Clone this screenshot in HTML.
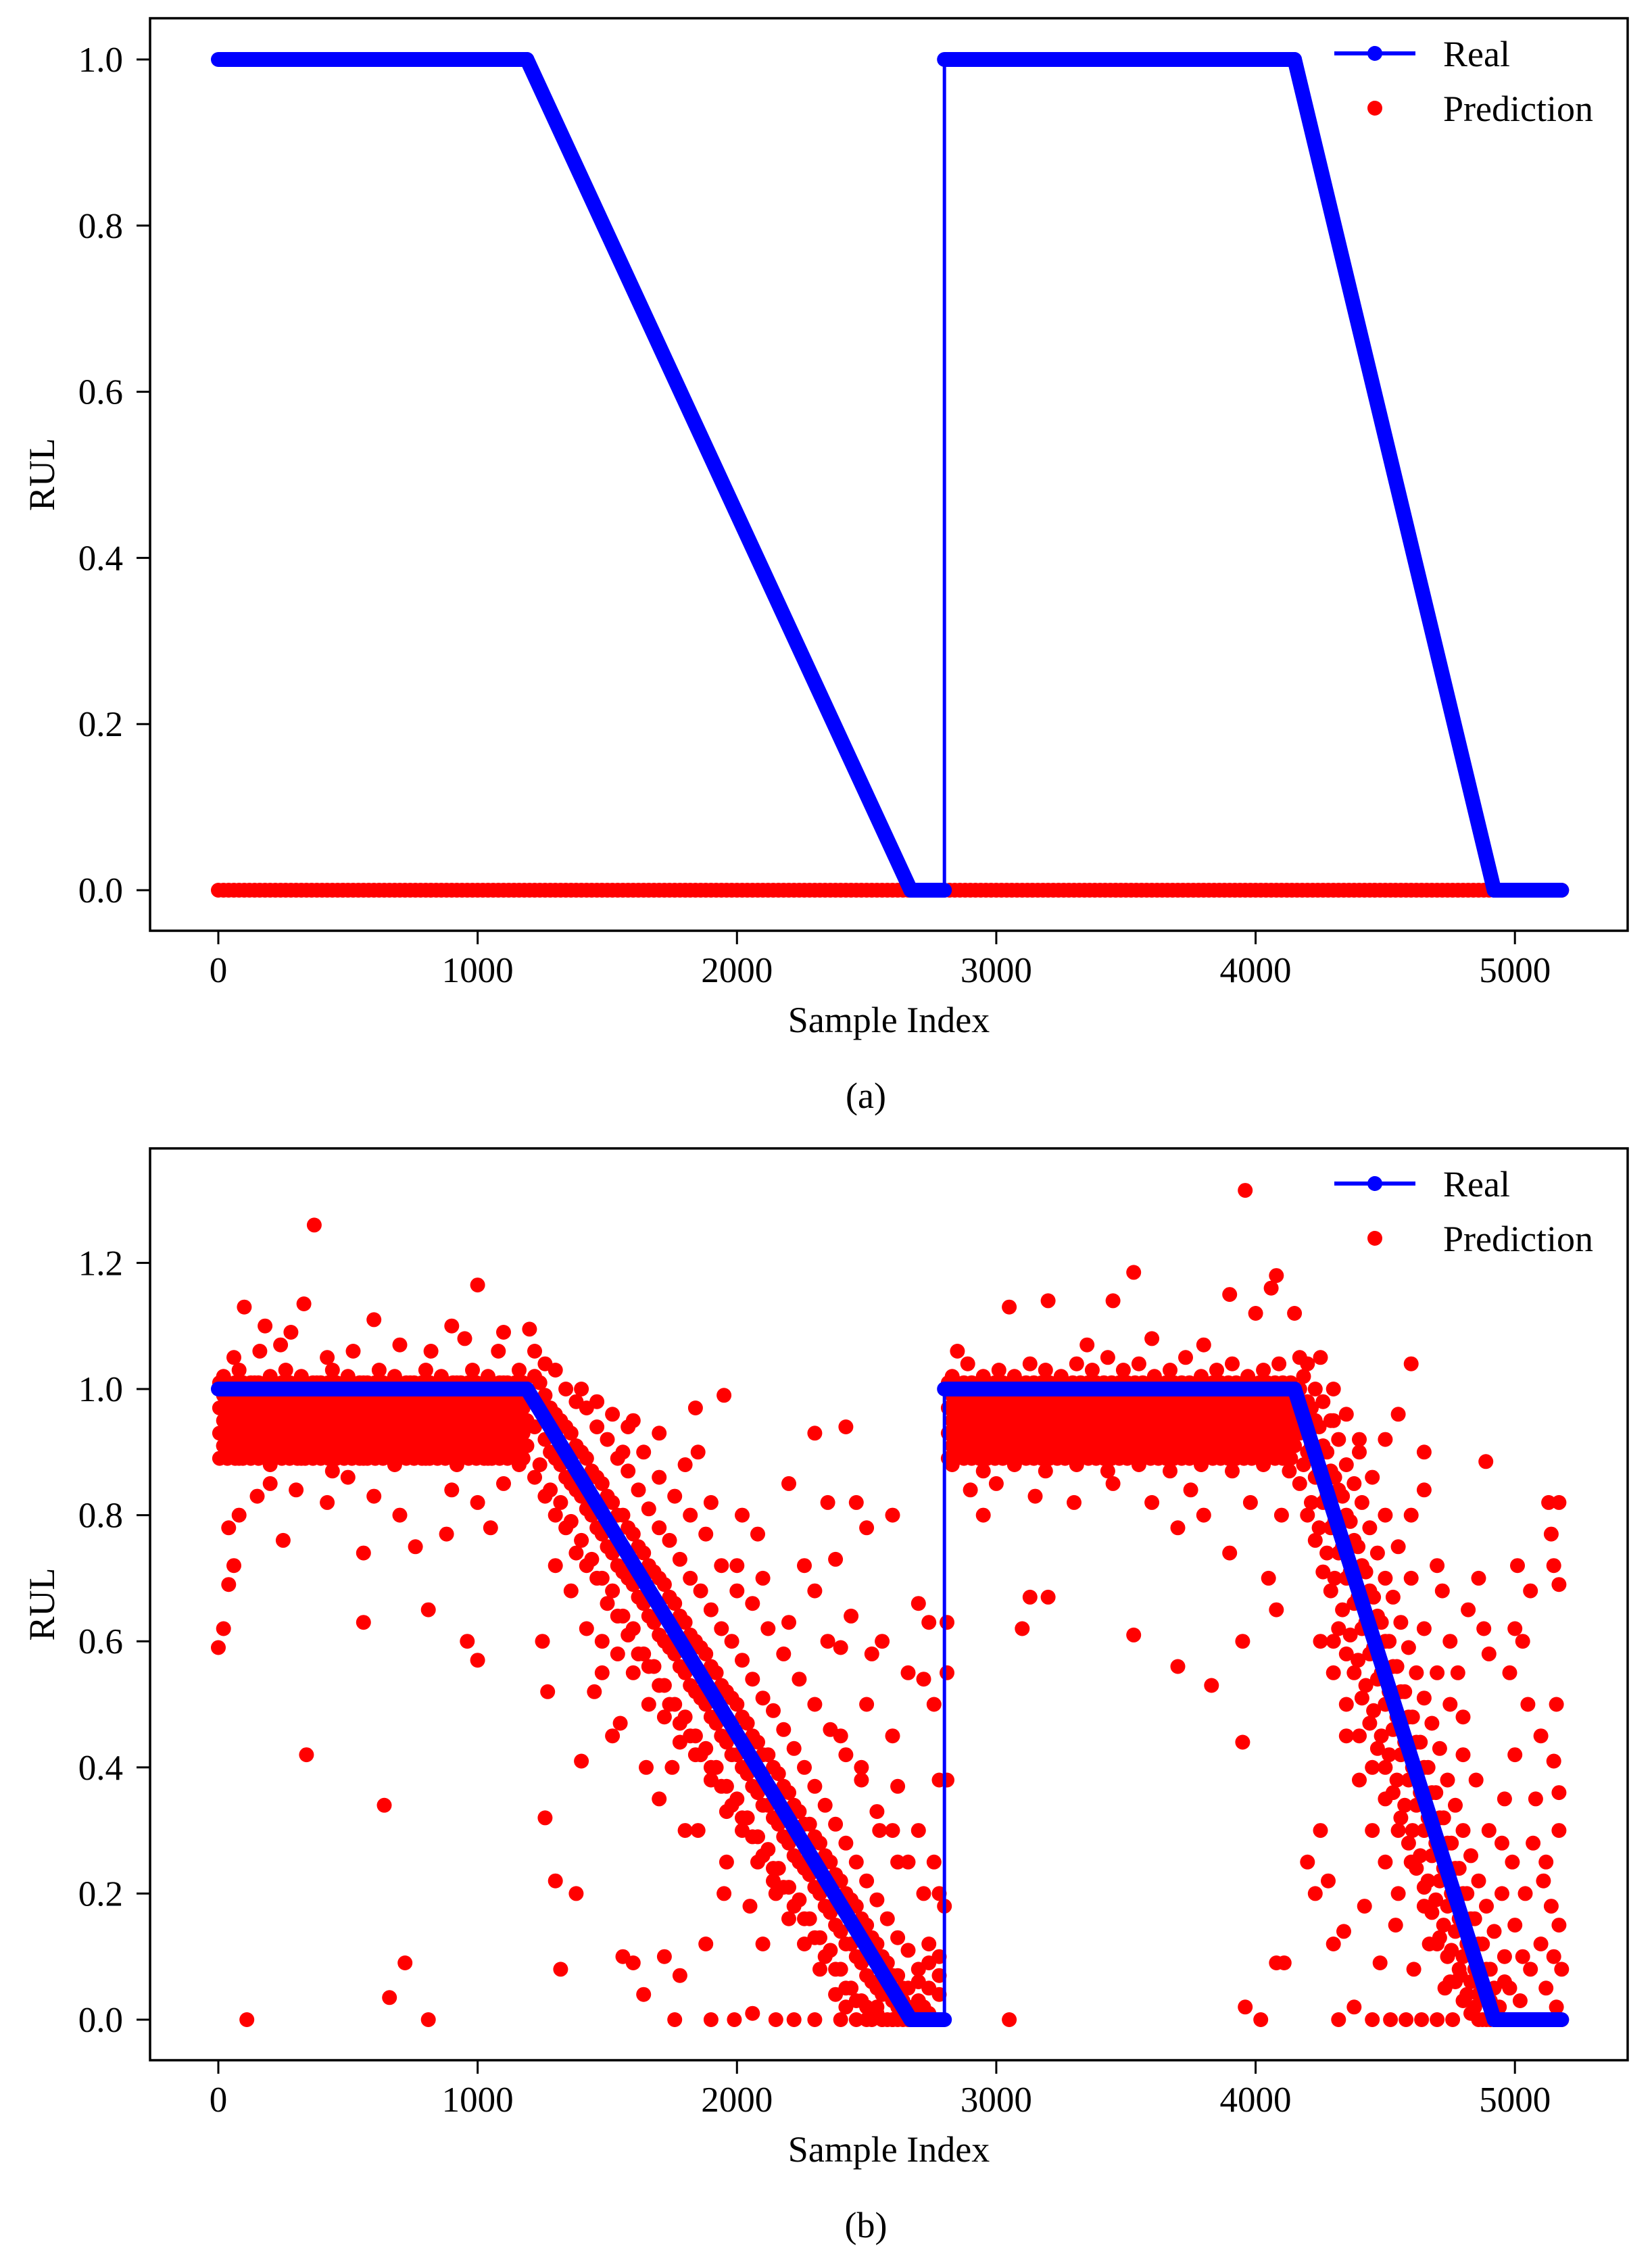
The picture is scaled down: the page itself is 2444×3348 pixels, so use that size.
<!DOCTYPE html>
<html><head><meta charset="utf-8">
<style>
html,body{margin:0;padding:0;background:#fff;}
svg{display:block;}
text{font-family:"Liberation Serif","Times New Roman",serif;fill:#000;}
</style></head>
<body>
<svg id="fig" width="2444" height="3348" viewBox="0 0 2444 3348" xmlns="http://www.w3.org/2000/svg">
<rect width="2444" height="3348" fill="#fff"/>
</svg>
<script>
// ---- data ----
const xTicks = [0, 1000, 2000, 3000, 4000, 5000];
const yTicksA = [0.0, 0.2, 0.4, 0.6, 0.8, 1.0];
const yTicksB = [0.0, 0.2, 0.4, 0.6, 0.8, 1.0, 1.2];
const realX = [0, 1190, 2670, 2800, 2800, 4150, 4920, 5180];
const realY = [1, 1, 0, 0, 1, 1, 0, 0];
const predAStep = 20;
const predAValues = new Array(260).fill(0);
// dense plateau bands (panel b)
const bandAX = [5,35,65,95,125,155,185,215,245,275,305,335,365,395,425,455,485,515,545,575,605,635,665,695,725,755,785,815,845,875,905,935,965,995,1025,1055,1085,1115,1145,1175];
const bandAY = [0.89, 0.91, 0.93, 0.95, 0.97, 0.99, 1.01];
const bandCX = [2815,2845,2875,2905,2935,2965,2995,3025,3055,3085,3115,3145,3175,3205,3235,3265,3295,3325,3355,3385,3415,3445,3475,3505,3535,3565,3595,3625,3655,3685,3715,3745,3775,3805,3835,3865,3895,3925,3955,3985,4015,4045,4075,4105,4135];
const bandCY = [0.89, 0.91, 0.93, 0.95, 0.97, 0.99, 1.01];
const predB = [
[20,.91],[80,.89],[140,.90],[200,.88],[260,.91],[320,.89],[380,.90],[440,.87],[500,.90],[560,.89],[620,.91],[680,.88],[740,.90],[800,.89],[860,.91],[920,.88],[980,.90],[1040,.89],[1100,.90],[1160,.88],
[20,1.02],[80,1.03],[140,1.01],[200,1.02],[260,1.03],[320,1.02],[380,1.01],[440,1.03],[500,1.02],[560,1.01],[620,1.03],[680,1.02],[740,1.01],[800,1.03],[860,1.02],[920,1.01],[980,1.03],[1040,1.02],[1100,1.01],[1160,1.03],
[0,.59],[20,.62],[40,.69],[60,.72],[40,.78],[80,.80],[110,0],[340,.42],[560,.63],[640,.34],[720,.09],[660,.035],[810,0],[810,.65],[960,.6],[1000,.57],
[370,1.26],[330,1.135],[100,1.13],[180,1.1],[280,1.09],[600,1.11],[1000,1.165],[1100,1.09],[1200,1.095],[900,1.1],
[150,.83],[200,.85],[300,.84],[420,.82],[500,.86],[600,.83],[700,.80],[760,.75],[880,.77],[900,.84],[1000,.82],[1050,.78],[1100,.85],[250,.76],[560,.74],
[160,1.06],[240,1.07],[420,1.05],[520,1.06],[700,1.07],[820,1.06],[950,1.08],[1080,1.06],[60,1.05],
[1220,.86],[1220,.94],[1220,1.02],[1220,1.06],[1260,.83],[1260,.92],[1260,.99],[1260,1.04],
[1300,.80],[1300,.89],[1300,.96],[1300,1.03],[1340,.78],[1340,.86],[1340,.94],[1340,1.0],
[1380,.74],[1380,.84],[1380,.91],[1380,.98],[1420,.72],[1420,.81],[1420,.89],[1420,.97],
[1460,.70],[1460,.78],[1460,.86],[1460,.94],[1500,.66],[1500,.75],[1500,.83],[1500,.92],
[1540,.64],[1540,.72],[1540,.80],[1540,.89],[1580,.61],[1580,.70],[1580,.78],[1580,.87],
[1620,.58],[1620,.67],[1620,.75],[1620,.84],[1660,.56],[1660,.64],[1660,.72],[1660,.81],
[1700,.53],[1700,.61],[1700,.70],[1700,.78],[1740,.50],[1740,.59],[1740,.67],[1740,.76],
[1780,.47],[1780,.56],[1780,.64],[1780,.73],[1820,.45],[1820,.53],[1820,.61],[1820,.70],
[1860,.42],[1860,.51],[1860,.59],[1860,.68],[1900,.40],[1900,.48],[1900,.56],[1900,.65],
[1940,.37],[1940,.45],[1940,.53],[1940,.62],[1980,.34],[1980,.42],[1980,.51],[1980,.60],
[2020,.32],[2020,.40],[2020,.48],[2020,.57],[2060,.29],[2060,.37],[2060,.45],[2060,.54],
[2100,.26],[2100,.34],[2100,.42],[2100,.51],[2140,.24],[2140,.32],[2140,.40],[2140,.49],
[2180,.21],[2180,.29],[2180,.37],[2180,.46],[2220,.18],[2220,.26],[2220,.34],[2220,.43],
[2260,.16],[2260,.24],[2260,.31],[2260,.40],[2300,.13],[2300,.21],[2300,.29],[2300,.37],
[2340,.10],[2340,.18],[2340,.26],[2340,.34],[2380,.08],[2380,.15],[2380,.23],[2380,.31],
[2420,.05],[2420,.12],[2420,.20],[2420,.28],[2460,.03],[2460,.10],[2460,.18],[2460,.25],
[2500,.02],[2500,.07],[2500,.15],[2500,.22],[2540,.01],[2540,.05],[2540,.12],[2540,.19],
[2580,0],[2580,.04],[2580,.09],[2580,.16],[2620,0],[2620,.02],[2620,.07],[2620,.13],
[2660,0],[2660,.02],[2660,.05],[2660,.11],[2700,0],[2700,.03],[2700,.08],[2740,.01],[2740,.05],[2740,.12],[2780,0],[2780,.04],[2780,.10],
[1240,.88],[1240,.97],[1240,1.01],[1280,.84],[1280,.90],[1280,.97],[1320,.82],[1320,.88],[1320,.95],[1360,.79],[1360,.85],[1360,.93],
[1400,.76],[1400,.83],[1400,.90],[1440,.73],[1440,.80],[1440,.87],[1480,.70],[1480,.77],[1480,.85],[1520,.68],[1520,.74],[1520,.82],
[1560,.64],[1560,.71],[1560,.80],[1600,.62],[1600,.69],[1600,.77],[1640,.58],[1640,.66],[1640,.74],[1680,.56],[1680,.63],[1680,.71],
[1720,.53],[1720,.60],[1720,.69],[1760,.50],[1760,.58],[1760,.66],[1800,.48],[1800,.55],[1800,.63],[1840,.45],[1840,.52],[1840,.60],
[1880,.43],[1880,.50],[1880,.58],[1920,.40],[1920,.47],[1920,.55],[1960,.37],[1960,.44],[1960,.52],[2000,.35],[2000,.42],[2000,.50],
[2040,.32],[2040,.39],[2040,.47],[2080,.29],[2080,.36],[2080,.44],[2120,.27],[2120,.34],[2120,.42],[2160,.24],[2160,.31],[2160,.39],
[2200,.21],[2200,.28],[2200,.36],[2240,.19],[2240,.25],[2240,.33],[2280,.16],[2280,.23],[2280,.31],[2320,.13],[2320,.20],[2320,.28],
[2360,.11],[2360,.17],[2360,.25],[2400,.08],[2400,.14],[2400,.22],[2440,.05],[2440,.12],[2440,.19],[2480,.03],[2480,.09],[2480,.16],
[2520,.01],[2520,.06],[2520,.13],[2560,0],[2560,.04],[2560,.10],[2600,0],[2600,.03],[2600,.07],[2640,0],[2640,.01],[2640,.05],
[2420,.02],[2460,0],[2520,0],[2540,.02],[2560,0],[2640,.03],[2680,.01],[2720,.02],[2760,0],[2700,.06],[2740,.09],[2780,.07],
[1300,.72],[1360,.68],[1420,.62],[1480,.6],[1540,.58],[1600,.55],[1660,.5],[1720,.48],[1780,.44],[1840,.42],[1900,.38],[1960,.33],[2020,.3],[2080,.25],[2140,.22],[2200,.16],[2260,.12],[2320,.08],[2380,.04],
[1400,1.0],[1460,.98],[1520,.96],[1580,.94],[1640,.9],[1700,.86],[1760,.83],[1820,.8],[1880,.77],[1940,.72],[2000,.68],[2060,.66],[2120,.62],[2180,.58],[2240,.54],[2300,.5],[2360,.46],[2420,.42],[2480,.38],[2540,.33],[2600,.3],[2660,.25],[2720,.2],
[1250,.6],[1270,.52],[1260,.32],[1300,.22],[1320,.08],[1380,.2],[1400,.41],[1450,.52],[1520,.45],[1560,.1],[1600,.09],[1640,.04],[1700,.35],[1720,.1],[1760,0],[1780,.07],[1800,.3],[1840,.97],[1880,.12],[1900,0],[1950,.99],[1960,.25],[1990,0],[2020,.8],[2060,.01],[2080,.77],[2100,.12],[2150,0],[2200,.85],[2220,0],[2260,.72],[2300,.93],[2350,.82],[2380,.73],[2400,.59],[2420,.94],[2440,.64],[2460,.82],[2480,.4],[2500,.78],[2520,.58],[2560,.6],[2600,.8],[2620,.37],[2660,.55],[2700,.66],[2720,.54],[2740,.63],[2760,.5],[2780,.38],[2300,.68],[2200,.63],[2100,.7],[2000,.72],[1900,.82],[1850,.9],[1800,.88],[1700,.93],[1600,.95],[1560,.9],[2150,.2],[2050,.18],[1950,.2],[1850,.3],[1750,.4],[1650,.4],[1550,.47],[1480,.55],[2620,.25],[2700,.3],[2760,.25],[2780,.2],[2500,.5],[2400,.45],[2600,.45],[2300,0],[2400,0],[2500,0],[2600,0],[2350,.6],[2550,.3],
[2830,.88],[2950,.87],[3070,.88],[3190,.87],[3310,.88],[3430,.87],[3550,.88],[3670,.87],[3790,.88],[3910,.87],[4030,.88],[4130,.87],
[2830,1.02],[2890,1.04],[2950,1.02],[3010,1.03],[3070,1.02],[3130,1.04],[3190,1.03],[3250,1.02],[3310,1.04],[3370,1.03],[3430,1.05],[3490,1.03],[3550,1.04],[3610,1.02],[3670,1.03],[3730,1.05],[3790,1.02],[3850,1.03],[3910,1.04],[3970,1.02],[4030,1.03],[4090,1.04],
[2810,.38],[2810,.55],[2810,.63],[2800,.18],[3050,0],[3100,.62],[3130,.67],[3200,.67],[3530,.61],[3700,.56],[3830,.53],[3950,.44],[3960,.02],[4020,0],[4080,.09],[4110,.09],[3960,1.315],[3530,1.185],[3450,1.14],[3200,1.14],[3050,1.13],[4000,1.12],[4060,1.16],[4080,1.18],[3900,1.15],[2950,.8],[3000,.85],[3300,.82],[3700,.78],[3900,.74],[3800,.8],[4050,.7],[4080,.65],[3950,.6],[2900,.84],[3150,.83],[3450,.85],[3600,.82],[3750,.84],[3980,.82],[4100,.80],[3350,1.07],[3600,1.08],[3800,1.07],[2850,1.06],
[4170,.85],[4170,.93],[4170,1.0],[4170,1.05],[4200,.80],[4200,.90],[4200,.98],[4200,1.04],
[4230,.76],[4230,.86],[4230,.95],[4230,1.0],[4260,.71],[4260,.82],[4260,.91],[4260,.98],
[4290,.68],[4290,.78],[4290,.87],[4290,.95],[4320,.62],[4320,.74],[4320,.84],[4320,.92],
[4350,.58],[4350,.70],[4350,.80],[4350,.88],[4380,.55],[4380,.66],[4380,.76],[4380,.85],
[4410,.51],[4410,.62],[4410,.72],[4410,.82],[4440,.47],[4440,.58],[4440,.68],[4440,.78],
[4470,.43],[4470,.54],[4470,.64],[4470,.74],[4500,.40],[4500,.50],[4500,.60],[4500,.70],
[4530,.36],[4530,.46],[4530,.56],[4530,.67],[4560,.32],[4560,.42],[4560,.52],[4560,.63],
[4590,.28],[4590,.38],[4590,.48],[4590,.59],[4620,.24],[4620,.34],[4620,.44],[4620,.55],
[4650,.21],[4650,.30],[4650,.40],[4650,.51],[4680,.17],[4680,.26],[4680,.36],[4680,.47],
[4710,.13],[4710,.22],[4710,.32],[4710,.43],[4740,.10],[4740,.18],[4740,.28],[4740,.38],
[4770,.06],[4770,.14],[4770,.24],[4770,.34],[4800,.03],[4800,.10],[4800,.20],[4800,.30],
[4830,.01],[4830,.06],[4830,.16],[4830,.26],[4860,0],[4860,.04],[4860,.12],[4860,.22],
[4890,0],[4890,.03],[4890,.08],[4890,.18],[4920,.01],[4920,.05],[4920,.14],
[4185,.88],[4185,.96],[4185,1.02],[4215,.82],[4215,.91],[4215,.97],[4245,.78],[4245,.87],[4245,.94],[4275,.74],[4275,.83],[4275,.90],
[4305,.70],[4305,.79],[4305,.86],[4335,.65],[4335,.75],[4335,.83],[4365,.61],[4365,.71],[4365,.79],[4395,.57],[4395,.67],[4395,.75],
[4425,.53],[4425,.63],[4425,.71],[4455,.49],[4455,.59],[4455,.67],[4485,.45],[4485,.55],[4485,.63],[4515,.42],[4515,.52],[4515,.60],
[4545,.38],[4545,.48],[4545,.56],[4575,.34],[4575,.44],[4575,.52],[4605,.30],[4605,.40],[4605,.48],[4635,.26],[4635,.36],[4635,.44],
[4665,.22],[4665,.32],[4665,.40],[4695,.19],[4695,.28],[4695,.36],[4725,.15],[4725,.24],[4725,.32],[4755,.11],[4755,.20],[4755,.28],
[4785,.08],[4785,.16],[4785,.24],[4815,.04],[4815,.12],[4815,.20],[4845,.02],[4845,.08],[4845,.16],[4875,0],[4875,.05],[4875,.12],[4905,0],[4905,.03],[4905,.08],
[4300,1.0],[4350,.96],[4400,.9],[4450,.86],[4500,.8],[4550,.75],[4600,.7],[4650,.62],[4700,.55],[4750,.5],[4800,.42],[4850,.38],[4900,.3],[4950,.28],
[4300,.6],[4350,.5],[4400,.45],[4450,.4],[4500,.35],[4550,.3],[4600,.25],[4650,.18],[4700,.12],[4750,.06],
[4200,.25],[4250,.3],[4230,.2],[4280,.22],[4300,.12],[4320,0],[4340,.14],[4380,.02],[4420,.18],[4450,0],[4480,.09],[4520,0],[4540,.15],[4580,0],[4610,.08],[4640,0],[4670,.12],[4700,0],[4730,.05],[4760,0],[4790,.07],[4250,.6],[4300,.55],[4350,.45],[4400,.38],[4450,.3],[4500,.25],[4550,.2],[4600,.8],[4650,.84],[4700,.72],[4720,.68],[4750,.6],[4780,.55],[4800,.48],[4820,.65],[4860,.7],[4880,.62],[4900,.58],[4888,.885],[4550,.96],[4600,1.04],[4650,.9],[4500,.92],[4400,.92],[4300,.95],[4250,1.05],[4150,1.12],[4200,.98],
[4940,.02],[4960,.1],[4980,.05],[5000,.15],[5020,.03],[5040,.2],[5060,.08],[5080,0],[5100,.12],[5120,.05],[5140,.18],[5160,.02],[5180,.08],[4950,.2],[4990,.25],[5030,.1],[5070,.28],[5110,.22],[5150,.1],[5170,.15],[5000,.42],[5030,.6],[5060,.68],[5000,.62],[5100,.45],[5130,.82],[5170,.82],[5140,.77],[5150,.72],[5170,.69],[5160,.5],[5150,.41],[5170,.36],[5170,.3],[4960,.35],[5080,.35],[5120,.25],[5010,.72],[4980,.55],[5050,.5],[4960,.06],[5000,0],[5100,0],[5180,0],[5140,0],[5060,0]
];

// ---- layout ----
const NS = "http://www.w3.org/2000/svg";
const svg = document.getElementById('fig');
function mk(tag, attrs, parent) {
  const e = document.createElementNS(NS, tag);
  for (const k in attrs) e.setAttribute(k, attrs[k]);
  (parent || svg).appendChild(e);
  return e;
}
const AX_L = 222, AX_R = 2408;
function xScale(v) { return 323 + v * 0.38364; }

function gridPoints(xs, ys) {
  const out = [];
  ys.forEach((y, j) => xs.forEach(x => out.push([x + (j % 2) * 15, y])));
  return out;
}

function drawPanel(cfg) {
  const g = mk('g', {});
  
  
  const yScale = v => cfg.y0 - v * cfg.yUnit;
  const clipId = cfg.name + '-clip';
  const cp = mk('clipPath', {id: clipId}, g);
  mk('rect', {x: AX_L, y: cfg.top, width: AX_R - AX_L, height: cfg.bottom - cfg.top}, cp);
  const plot = mk('g', {'clip-path': 'url(#' + clipId + ')'}, g);

  const predG = mk('g', {fill: '#ff0000'}, plot);
  
  
  cfg.pred.forEach(p => {
    const c = mk('circle', {cx: xScale(p[0]).toFixed(1), cy: yScale(p[1]).toFixed(1), r: 11}, predG);
    
    
  });

  const realG = mk('g', {fill: 'none', stroke: '#0000ff', 'stroke-linejoin': 'round'}, plot);
  
  
  for (let i = 0; i < realX.length - 1; i++) {
    const vertical = realX[i] === realX[i + 1];
    const seg = mk('line', {
      x1: xScale(realX[i]), y1: yScale(realY[i]),
      x2: xScale(realX[i + 1]), y2: yScale(realY[i + 1]),
      'stroke-width': vertical ? 5 : 22,
      'stroke-linecap': vertical ? 'butt' : 'round'
    }, realG);
    
    
  }

  const fr = mk('rect', {x: AX_L, y: cfg.top, width: AX_R - AX_L, height: cfg.bottom - cfg.top, fill: 'none', stroke: '#000', 'stroke-width': 3.5}, g);
  
  

  xTicks.forEach(t => {
    const x = xScale(t);
    const tk = mk('line', {x1: x, y1: cfg.bottom, x2: x, y2: cfg.bottom + 20, stroke: '#000', 'stroke-width': 3}, g);
    
    
    const tl = mk('text', {x: x, y: cfg.bottom + 76, 'font-size': 53, 'text-anchor': 'middle'}, g);
    tl.textContent = String(t);
    
    
  });
  cfg.yTicks.forEach(t => {
    const y = yScale(t);
    const tk = mk('line', {x1: AX_L - 20, y1: y, x2: AX_L, y2: y, stroke: '#000', 'stroke-width': 3}, g);
    
    
    const tl = mk('text', {x: 182, y: y + 18, 'font-size': 53, 'text-anchor': 'end'}, g);
    tl.textContent = t.toFixed(1);
    
    
  });
  const cy = (cfg.top + cfg.bottom) / 2;
  const yl = mk('text', {x: 0, y: 0, 'font-size': 54, 'text-anchor': 'middle', transform: 'translate(80,' + cy + ') rotate(-90)'}, g);
  yl.textContent = 'RUL';
  
  
  const xl = mk('text', {x: 1315, y: cfg.bottom + 150, 'font-size': 54, 'text-anchor': 'middle'}, g);
  xl.textContent = 'Sample Index';
  
  
  const cap = mk('text', {x: 1281, y: cfg.bottom + 262, 'font-size': 54, 'text-anchor': 'middle', fill: '#333'}, g);
  cap.textContent = cfg.caption;
  
  

  const lg = mk('g', {}, g);
  
  
  const ly = cfg.top + 52;
  const ll = mk('line', {x1: 1974, y1: ly, x2: 2094, y2: ly, stroke: '#0000ff', 'stroke-width': 6}, lg);
  
  
  const lm = mk('circle', {cx: 2034, cy: ly, r: 11, fill: '#0000ff'}, lg);
  
  
  const lt = mk('text', {x: 2135, y: ly + 19, 'font-size': 54}, lg);
  lt.textContent = 'Real';
  
  
  const pm = mk('circle', {cx: 2034, cy: ly + 81, r: 11, fill: '#ff0000'}, lg);
  
  
  const pt = mk('text', {x: 2135, y: ly + 100, 'font-size': 54}, lg);
  pt.textContent = 'Prediction';
  
  
}

drawPanel({
  name: 'panel-a', top: 27, bottom: 1377, y0: 1317, yUnit: 1229,
  yTicks: yTicksA, caption: '(a)',
  pred: predAValues.map((v, i) => [i * predAStep, v])
});
drawPanel({
  name: 'panel-b', top: 1699, bottom: 3048, y0: 2988, yUnit: 933,
  yTicks: yTicksB, caption: '(b)',
  pred: gridPoints(bandAX, bandAY).concat(gridPoints(bandCX, bandCY), predB)
});
</script>
</body></html>
